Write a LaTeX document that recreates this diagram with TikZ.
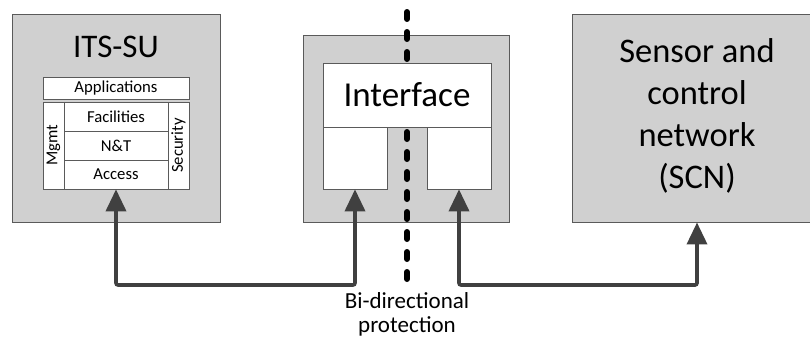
\documentclass[tikz,border=0pt]{standalone}
\usepackage{fontspec}
\setmainfont{Carlito}
\usetikzlibrary{arrows.meta}
\definecolor{boxgray}{RGB}{208,208,208}
\definecolor{edgegray}{RGB}{90,90,90}
\definecolor{arrgray}{RGB}{64,64,64}
\begin{document}
\begin{tikzpicture}[x=1pt,y=-1pt,
  graybox/.style={draw=edgegray,line width=0.9pt,fill=boxgray,inner sep=0pt},
  whitebox/.style={draw=edgegray,line width=0.7pt,fill=white,inner sep=0pt},
  big/.style={font=\fontsize{34}{40}\selectfont},
  small/.style={font=\fontsize{16.7}{20}\selectfont},
  conn/.style={draw=arrgray,line width=3.6pt,rounded corners=2pt,
    {Triangle[length=22pt,width=20pt]}-{Triangle[length=22pt,width=20pt]}},
  sep/.style={draw=black,line width=6pt,line cap=round,dash pattern=on 7pt off 13pt}]
\useasboundingbox (0,0) rectangle (810,340);
% ITS-SU
\node[graybox,minimum width=208pt,minimum height=208pt] (its) at (116,118) {};
\node[big,font=\fontsize{33}{40}\selectfont] (itstitle) at (116,47) {ITS-SU};
\node[whitebox,small,minimum width=146pt,minimum height=22pt] (app) at (116,88) {Applications};
\node[whitebox,small,minimum width=21pt,minimum height=87pt] (mgmt) at (53.5,145.5) {};
\node[small,rotate=90] (mgmtt) at (mgmt) {Mgmt};
\node[whitebox,small,minimum width=21pt,minimum height=87pt] (sec) at (178.5,145.5) {};
\node[small,rotate=90] (sect) at (sec) {Security};
\node[whitebox,small,minimum width=104pt,minimum height=29pt] (fac) at (116,116.5) {Facilities};
\node[whitebox,small,minimum width=104pt,minimum height=29pt] (nt) at (116,145.5) {N\&T};
\node[whitebox,small,minimum width=104pt,minimum height=29pt] (acc) at (116,174.5) {Access};
% middle
\node[graybox,minimum width=206pt,minimum height=187pt] (mid) at (406,128.5) {};
\coordinate (sepTop) at (407,12);
\coordinate (sepBot) at (407,282);
\draw[sep] (sepTop) -- (sepBot);
\node[whitebox,big,font=\fontsize{35}{40}\selectfont,minimum width=168pt,minimum height=64pt] (intf) at (407,95) {Interface};
\node[whitebox,minimum width=64pt,minimum height=62pt] (ll) at (355,158) {};
\node[whitebox,minimum width=64pt,minimum height=62pt] (rl) at (459,158) {};
% SCN
\node[graybox,minimum width=250pt,minimum height=208pt] (scn) at (697,118) {};
\node[font=\fontsize{34.5}{42}\selectfont,align=center] (scnt) at (697,116) {Sensor and\\control\\network\\(SCN)};
% connectors
\coordinate (jl) at (116,285);
\coordinate (jr) at (459,285);
\path[conn] (acc.south) -- (jl) -| (ll.south);
\path[conn] (rl.south) -- (jr) -| (scn.south);
\node[font=\fontsize{23}{24}\selectfont,align=center] (bidir) at (407,314) {Bi-directional\\protection};
\end{tikzpicture}
\end{document}
